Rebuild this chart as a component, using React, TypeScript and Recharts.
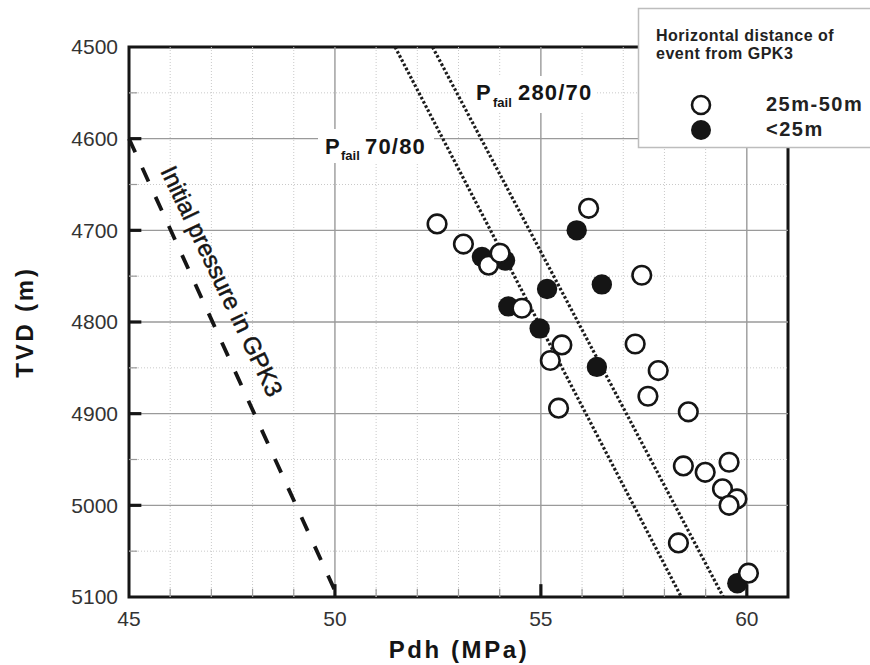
import React from 'react';
import { ScatterChart, Scatter, XAxis, YAxis, ReferenceLine, ReferenceArea } from 'recharts';

const xTicks = [45, 50, 55, 60];
const yTicks = [4500, 4600, 4700, 4800, 4900, 5000, 5100];
const xMajorGrid = [50, 55, 60];
const yMajorGrid = [4600, 4700, 4800, 4900, 5000];
const xMinorGrid = [46, 47, 48, 49, 51, 52, 53, 54, 56, 57, 58, 59];
const yMinorGrid = [4550, 4650, 4750, 4850, 4950, 5050];

const farEvents = [
  { pdh: 52.48, tvd: 4693 },
  { pdh: 53.12, tvd: 4715 },
  { pdh: 53.73, tvd: 4738 },
  { pdh: 54.01, tvd: 4725 },
  { pdh: 54.54, tvd: 4785 },
  { pdh: 55.51, tvd: 4825 },
  { pdh: 55.23, tvd: 4842 },
  { pdh: 55.43, tvd: 4894 },
  { pdh: 56.16, tvd: 4676 },
  { pdh: 57.45, tvd: 4749 },
  { pdh: 57.29, tvd: 4824 },
  { pdh: 57.85, tvd: 4853 },
  { pdh: 57.6, tvd: 4881 },
  { pdh: 58.58, tvd: 4898 },
  { pdh: 58.46, tvd: 4957 },
  { pdh: 58.99, tvd: 4964 },
  { pdh: 59.57, tvd: 4953 },
  { pdh: 59.41, tvd: 4982 },
  { pdh: 59.76, tvd: 4993 },
  { pdh: 59.57, tvd: 5000 },
  { pdh: 58.34, tvd: 5041 },
  { pdh: 60.04, tvd: 5074 },
];

const nearEvents = [
  { pdh: 53.57, tvd: 4729 },
  { pdh: 54.13, tvd: 4733 },
  { pdh: 55.87, tvd: 4700 },
  { pdh: 55.15, tvd: 4764 },
  { pdh: 56.48, tvd: 4759 },
  { pdh: 54.21, tvd: 4783 },
  { pdh: 54.97, tvd: 4807 },
  { pdh: 56.36, tvd: 4849 },
  { pdh: 59.77, tvd: 5085 },
];

const initialPressure = [
  { x: 45, y: 4600 },
  { x: 50.07, y: 5100 },
];
const pfail7080 = [
  { x: 51.46, y: 4500 },
  { x: 58.41, y: 5100 },
];
const pfail28070 = [
  { x: 52.37, y: 4500 },
  { x: 59.43, y: 5100 },
];

const legendTitle = ['Horizontal distance of', 'event from GPK3'];
const legendLabels = ['25m-50m', '<25m'];

const FONT = '"Liberation Sans", Arial, Helvetica, sans-serif';
const INK = '#151515';

const OpenDot = (props: any) => (
  <circle cx={props.cx} cy={props.cy} r={9.3} fill="#fff" stroke={INK} strokeWidth={2.6} />
);
const FilledDot = (props: any) => (
  <circle cx={props.cx} cy={props.cy} r={10.2} fill={INK} stroke="none" />
);

export default function App() {
  const tickStyle = { fontSize: 21, fill: '#333', fontFamily: FONT };
  return (
    <div style={{ position: 'absolute', left: 0, top: 0, width: 870, height: 665, background: '#fff' }}>
      <ScatterChart width={870} height={665} margin={{ top: 47, right: 82, bottom: 0, left: 0 }}>
        <XAxis
          dataKey="pdh"
          type="number"
          domain={[45, 61]}
          ticks={xTicks}
          interval={0}
          allowDataOverflow
          axisLine={false}
          tickLine={false}
          tickSize={0}
          tickMargin={14}
          height={68}
          tick={tickStyle}
        />
        <YAxis
          dataKey="tvd"
          type="number"
          domain={[4500, 5100]}
          reversed
          ticks={yTicks}
          interval={0}
          allowDataOverflow
          axisLine={false}
          tickLine={false}
          tickSize={0}
          tickMargin={11}
          width={129}
          tick={tickStyle}
        />
        {xMinorGrid.map((v) => (
          <ReferenceLine key={'xm' + v} x={v} stroke="#c9c9c9" strokeWidth={1} strokeDasharray="1 2" />
        ))}
        {yMinorGrid.map((v) => (
          <ReferenceLine key={'ym' + v} y={v} stroke="#c9c9c9" strokeWidth={1} strokeDasharray="1 2" />
        ))}
        {xMajorGrid.map((v) => (
          <ReferenceLine key={'xg' + v} x={v} stroke="#9a9a9a" strokeWidth={1.4} />
        ))}
        {yMajorGrid.map((v) => (
          <ReferenceLine key={'yg' + v} y={v} stroke="#9a9a9a" strokeWidth={1.4} />
        ))}
        {yMinorGrid.map((v) => (
          <ReferenceLine key={'ymt' + v} segment={[{ x: 45, y: v }, { x: 45.2, y: v }]} stroke="#999" strokeWidth={1.2} />
        ))}
        {xMinorGrid.map((v) => (
          <ReferenceLine key={'xmt' + v} segment={[{ x: v, y: 5100 }, { x: v, y: 5091 }]} stroke="#999" strokeWidth={1.2} />
        ))}
        {yMajorGrid.map((v) => (
          <ReferenceLine key={'yt' + v} segment={[{ x: 45, y: v }, { x: 45.3, y: v }]} stroke={INK} strokeWidth={3.2} />
        ))}
        {xMajorGrid.map((v) => (
          <ReferenceLine key={'xt' + v} segment={[{ x: v, y: 5100 }, { x: v, y: 5086 }]} stroke={INK} strokeWidth={3.2} />
        ))}
        <ReferenceArea x1={45} x2={61} y1={4500} y2={5100} fill="none" fillOpacity={0} stroke={INK} strokeWidth={3} />
        <ReferenceLine segment={initialPressure} stroke={INK} strokeWidth={3.8} strokeDasharray="15 17" />
        <ReferenceLine segment={pfail7080} stroke="#1c1c1c" strokeWidth={3.2} strokeDasharray="2.6 2.1" />
        <ReferenceLine segment={pfail28070} stroke="#1c1c1c" strokeWidth={3.2} strokeDasharray="2.6 2.1" />
        <Scatter name="<25m" data={nearEvents} shape={FilledDot} isAnimationActive={false} />
        <Scatter name="25m-50m" data={farEvents} shape={OpenDot} isAnimationActive={false} />
      </ScatterChart>
      <svg
        width={870}
        height={665}
        style={{ position: 'absolute', left: 0, top: 0, pointerEvents: 'none' }}
        fontFamily={FONT}
      >
        {/* P_fail annotations */}
        <rect x={468} y={76} width={129} height={37} fill="#fff" />
        <text x={476} y={100} fontSize={22} fontWeight="bold" fill={INK} letterSpacing={0.5}>P</text>
        <text x={493} y={107} fontSize={13} fontWeight="bold" fill={INK}>fail</text>
        <text x={518} y={100} fontSize={22} fontWeight="bold" fill={INK} letterSpacing={1.2}>280/70</text>

        <rect x={318} y={129} width={116} height={34} fill="#fff" />
        <text x={325} y={154} fontSize={22} fontWeight="bold" fill={INK}>P</text>
        <text x={341} y={160} fontSize={13} fontWeight="bold" fill={INK}>fail</text>
        <text x={365} y={154} fontSize={22} fontWeight="bold" fill={INK} letterSpacing={1.2}>70/80</text>

        {/* Initial pressure label */}
        <text
          x={222}
          y={281}
          fontSize={24}
          fill={INK}
          stroke={INK}
          strokeWidth={0.5}
          textAnchor="middle"
          dominantBaseline="central"
          transform="rotate(64.5 222 281)"
        >
          Initial pressure in GPK3
        </text>

        {/* Axis titles */}
        <text x={459} y={658} fontSize={24} fontWeight="bold" fill={INK} textAnchor="middle" letterSpacing={2.6}>
          Pdh (MPa)
        </text>
        <text
          x={33}
          y={322}
          fontSize={24}
          fontWeight="bold"
          fill={INK}
          textAnchor="middle"
          letterSpacing={2.8}
          transform="rotate(-90 33 322)"
        >
          TVD (m)
        </text>

        {/* Legend box */}
        <rect x={638.5} y={8.5} width={240} height={139} fill="#fff" stroke="#bdbdbd" strokeWidth={1.5} />
        <text x={656} y={41} fontSize={16} fontWeight="bold" fill="#222" letterSpacing={0.5}>{legendTitle[0]}</text>
        <text x={656} y={58.5} fontSize={16} fontWeight="bold" fill="#222" letterSpacing={0.5}>{legendTitle[1]}</text>
        <circle cx={701} cy={105} r={9} fill="#fff" stroke={INK} strokeWidth={2.6} />
        <circle cx={701} cy={130} r={10} fill={INK} />
        <text x={766} y={111} fontSize={20} fontWeight="bold" fill="#222" letterSpacing={1.5}>{legendLabels[0]}</text>
        <text x={766} y={136} fontSize={20} fontWeight="bold" fill="#222" letterSpacing={1.5}>{legendLabels[1]}</text>
      </svg>
    </div>
  );
}
